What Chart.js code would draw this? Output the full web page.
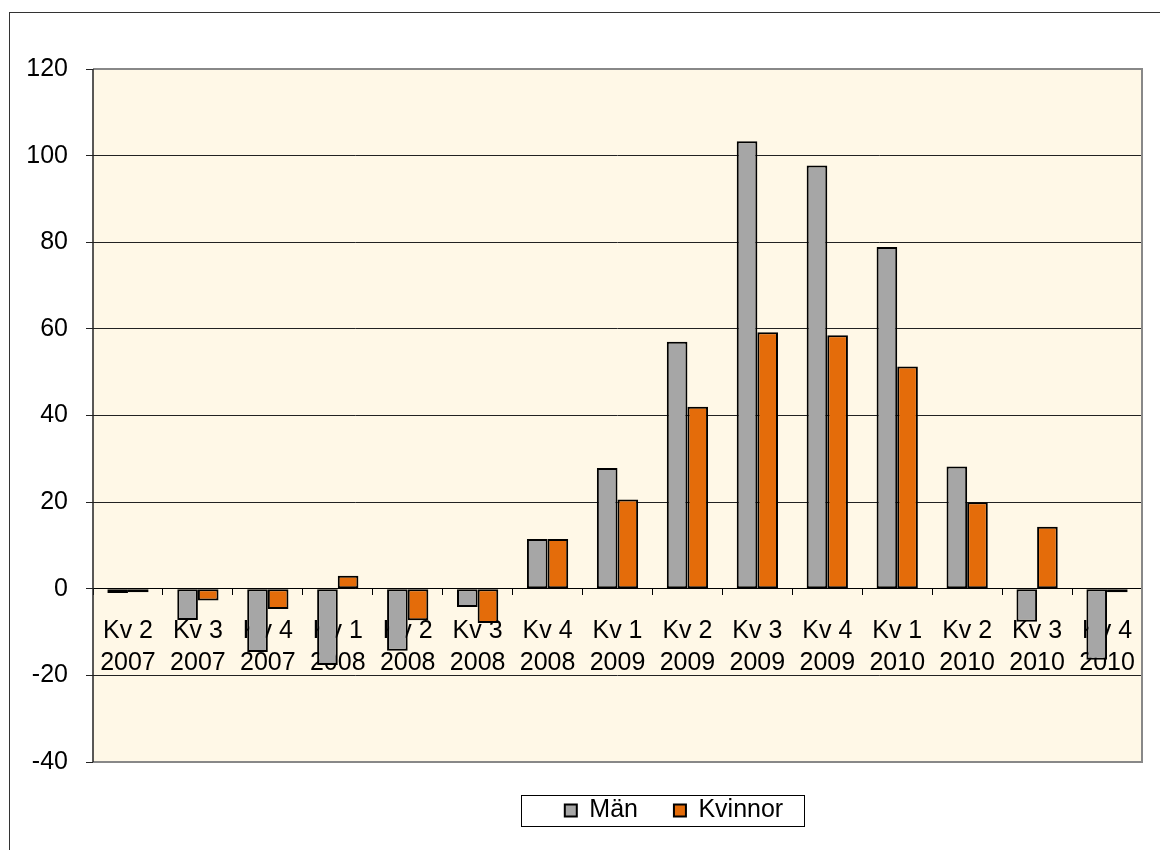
<!DOCTYPE html>
<html>
<head>
<meta charset="utf-8">
<script src="https://cdn.jsdelivr.net/npm/chart.js@4"></script>
<style>
  body { margin: 0; background: #fff; overflow: hidden; }
  #frame { position: absolute; left: 9px; top: 12px; width: 1200px; height: 900px; border: 1px solid #333; }
  #wrap { position: absolute; left: 0; top: 0; width: 1160px; height: 850px; }
</style>
</head>
<body>
<div id="frame"></div>
<div id="wrap"><canvas id="chart" width="1160" height="850"></canvas></div>
<script>
// ==================== DATA ====================
const kvartal = [
    ['Kv 2', '2007'], ['Kv 3', '2007'], ['Kv 4', '2007'],
    ['Kv 1', '2008'], ['Kv 2', '2008'], ['Kv 3', '2008'], ['Kv 4', '2008'],
    ['Kv 1', '2009'], ['Kv 2', '2009'], ['Kv 3', '2009'], ['Kv 4', '2009'],
    ['Kv 1', '2010'], ['Kv 2', '2010'], ['Kv 3', '2010'], ['Kv 4', '2010']
];
const man = [-1, -7.2, -14.6, -17.6, -14.3, -4.2, 11.5, 27.9, 57.0, 103.3, 97.7, 78.9, 28.2, -7.6, -16.4];
const kvinnor = [-0.8, -2.7, -4.7, 3.0, -7.3, -7.9, 11.5, 20.6, 42.0, 59.2, 58.5, 51.3, 20.0, 14.3, -0.8];
const yMin = -40, yMax = 120, yStep = 20;

const FONT = "'Liberation Sans', Arial, sans-serif";

// ==================== PLUGINS ====================
// cream plot area + gray frame
const plotArea = {
    id: 'plotArea',
    beforeDraw(chart) {
        const { ctx, chartArea: a } = chart;
        ctx.save();
        ctx.fillStyle = '#FFF8E7';
        ctx.fillRect(a.left, a.top, a.right - a.left, a.bottom - a.top);
        ctx.restore();
    },
    afterDraw(chart) {
        const { ctx, chartArea: a } = chart;
        ctx.save();
        ctx.strokeStyle = '#888';
        ctx.lineWidth = 2;
        ctx.beginPath();
        ctx.moveTo(a.left, a.top);
        ctx.lineTo(a.right, a.top);
        ctx.lineTo(a.right, a.bottom);
        ctx.lineTo(a.left, a.bottom);
        ctx.stroke();
        ctx.strokeStyle = '#222';
        ctx.lineWidth = 1.5;
        ctx.beginPath();
        ctx.moveTo(a.left, a.top);
        ctx.lineTo(a.left, a.bottom);
        ctx.stroke();
        ctx.restore();
    }
};

// legend sits a bit right of centre, with a box round it
const legendBox = {
    id: 'legendBox',
    afterLayout(chart) {
        const lg = chart.legend;
        if (!lg) return;
        lg.left += 103;
        lg.right += 103;
    },
    afterDraw(chart) {
        const boxes = chart.legend?.legendHitBoxes;
        if (!boxes || !boxes.length) return;
        const first = boxes[0];
        const cy = first.top + first.height / 2;
        const w = 283, h = 31;
        const x0 = first.left - 44;
        const { ctx } = chart;
        ctx.save();
        ctx.strokeStyle = '#000';
        ctx.lineWidth = 1;
        ctx.strokeRect(Math.round(x0) + 0.5, Math.round(cy - h / 2) + 0.5, w, h);
        ctx.restore();
    }
};

// ==================== CHART ====================
new Chart(document.getElementById('chart'), {
    type: 'bar',
    data: {
        labels: kvartal,
        datasets: [{
            label: 'Män',
            data: man,
            backgroundColor: '#A6A6A6',
            borderColor: '#000',
            borderWidth: 2,
            borderSkipped: false
        }, {
            label: 'Kvinnor',
            data: kvinnor,
            backgroundColor: '#E46C0A',
            borderColor: '#000',
            borderWidth: 2,
            borderSkipped: false
        }]
    },
    options: {
        responsive: false,
        animation: false,
        devicePixelRatio: 1,
        layout: { padding: { top: 69, right: 18, left: 0, bottom: 17 } },
        datasets: { bar: { categoryPercentage: 0.59, barPercentage: 1.0 } },
        plugins: {
            legend: {
                position: 'bottom',
                labels: {
                    font: { family: FONT, size: 25 },
                    color: '#000',
                    boxWidth: 12,
                    boxHeight: 12,
                    padding: 36,
                    generateLabels(chart) {
                        return chart.data.datasets.map((ds, i) => ({
                            text: ds.label,
                            fillStyle: ds.backgroundColor,
                            strokeStyle: '#000',
                            lineWidth: 2,
                            datasetIndex: i,
                            hidden: false
                        }));
                    }
                }
            },
            tooltip: { enabled: false }
        },
        scales: {
            x: {
                position: { y: 0 },
                z: 1,
                offset: true,
                border: { color: '#000', width: 1 },
                grid: { display: true, drawOnChartArea: false, tickLength: 6, color: '#000', offset: true },
                ticks: {
                    font: { family: FONT, size: 25, lineHeight: 1.28 },
                    color: '#000',
                    padding: 20,
                    maxRotation: 0,
                    autoSkip: false
                }
            },
            y: {
                min: yMin,
                max: yMax,
                afterFit(scale) { scale.width = 93; },
                border: { display: false },
                grid: { color: '#222', lineWidth: 1, tickLength: 7, drawTicks: true },
                ticks: {
                    stepSize: yStep,
                    font: { family: FONT, size: 25 },
                    color: '#000',
                    padding: 18
                }
            }
        }
    },
    plugins: [plotArea, legendBox]
});
</script>
</body>
</html>
